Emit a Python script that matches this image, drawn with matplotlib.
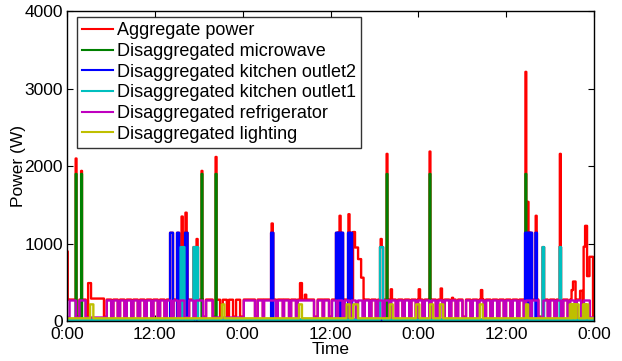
import numpy as np
import matplotlib
matplotlib.use("Agg")
import matplotlib.pyplot as plt

plt.rcParams['font.family'] = ['Liberation Sans', 'DejaVu Sans']

# ---------------- data (hours since start, watts) ----------------
x_ticks = [0, 12, 24, 36, 48, 60, 72]
x_tick_labels = ["0:00", "12:00", "0:00", "12:00", "0:00", "12:00", "0:00"]
y_ticks = [0, 1000, 2000, 3000, 4000]

# refrigerator (disaggregated) cycles: start hour, duration hours
fridge_start = [0.35, 1.70, 5.42, 6.33, 7.24, 8.16, 9.06, 9.97, 10.89, 11.79,
                12.71, 13.62, 14.52, 15.44, 16.67, 17.58, 18.99, 24.14, 26.05,
                26.91, 28.79, 29.65, 30.60, 31.52, 34.25, 35.11, 36.20, 37.02,
                37.94, 38.84, 39.76, 40.67, 41.57, 42.49, 43.40, 44.31, 45.22,
                46.14, 47.04, 47.95, 48.87, 49.77, 50.69, 51.60, 52.50, 53.42,
                54.51, 55.43, 56.33, 57.24, 58.16, 59.06, 59.98, 60.89, 61.79,
                62.71, 63.49, 65.07, 65.99, 66.90, 67.80, 68.72, 69.64, 70.63]
fridge_dur = [0.85, 0.85, 0.6, 0.6, 0.6, 0.6, 0.6, 0.6, 0.6, 0.6,
              0.6, 0.6, 0.6, 0.6, 0.6, 1.0, 0.9, 1.54, 0.69,
              1.64, 0.68, 0.68, 0.68, 2.23, 0.68, 0.69, 0.6, 0.6,
              0.6, 0.6, 0.6, 0.6, 0.6, 0.6, 0.6, 0.6, 0.6,
              0.6, 0.6, 0.6, 0.6, 0.6, 0.6, 0.6, 0.6, 0.6,
              0.6, 0.6, 0.6, 0.6, 0.6, 0.6, 0.6, 0.6, 0.6,
              0.6, 0.9, 0.6, 0.6, 0.6, 0.6, 0.6, 0.6, 0.8]
fridge_on_w = 265
fridge_off_w = 45

# fridge cycles seen only in the aggregate signal
agg_fridge_start = [0.0, 20.36, 21.27, 22.13, 23.09]
agg_fridge_dur = [0.55, 0.55, 0.55, 0.55, 0.55]

# lighting events (start, end)
light_start = [3.14, 21.15, 31.70, 38.20, 39.10, 44.10, 47.70, 49.60, 50.95,
               56.40, 62.70, 68.70, 68.90, 69.10, 69.35, 69.55, 70.50, 70.70, 70.90]
light_end = [3.60, 21.50, 32.10, 38.60, 39.75, 44.50, 48.15, 50.00, 51.40,
             56.80, 63.00, 68.85, 69.05, 69.30, 69.50, 69.90, 70.65, 70.85, 71.20]
light_on_w = 215
light_off_w = 35

# microwave events
micro_start = [1.18, 1.93, 18.38, 20.30, 43.66, 49.53, 62.62]
micro_end = [1.30, 2.05, 18.50, 20.42, 43.78, 49.65, 62.74]
micro_on_w = 1900

# kitchen outlet2 events
out2_start = [14.07, 15.03, 16.12, 27.87, 36.75, 37.00, 37.25, 37.50, 38.39,
              38.65, 62.57, 62.80, 63.05, 63.30, 64.00]
out2_end = [14.48, 15.30, 16.46, 28.18, 36.95, 37.20, 37.45, 37.71, 38.60,
            38.94, 62.75, 63.00, 63.25, 63.53, 64.20]
out2_on_w = 1140

# kitchen outlet1 events
out1_start = [15.51, 15.80, 17.28, 17.60, 42.76, 64.96, 67.29]
out1_end = [15.75, 16.05, 17.55, 17.90, 43.17, 65.17, 67.49]
out1_on_w = 955

off_w = 15
agg_base_w = 40

# aggregate peaks not explained by the components (start, end, watts)
agg_ev_start = [0.00, 1.18, 1.93, 2.87, 3.28, 15.65, 16.18, 17.70, 18.38, 20.30,
                27.95, 31.83, 32.50, 37.22, 38.45, 39.07, 39.35, 39.76, 40.17,
                42.85, 43.66, 44.22, 48.05, 49.53, 51.05, 52.60, 56.55, 62.62,
                62.90, 64.02, 67.32, 68.93, 69.13, 70.09, 70.57, 70.77, 71.04, 71.38]
agg_ev_end = [0.10, 1.30, 2.05, 3.28, 5.05, 15.80, 16.34, 17.84, 18.50, 20.42,
              28.10, 32.10, 32.68, 37.38, 38.60, 39.35, 39.76, 40.17, 40.51,
              43.00, 43.78, 44.40, 48.22, 49.65, 51.22, 52.75, 56.72, 62.74,
              63.05, 64.16, 67.46, 69.13, 69.47, 70.45, 70.77, 71.04, 71.38, 71.86]
agg_ev_w = [900, 2100, 1940, 490, 290, 1350, 1400, 1060, 1940, 2120,
            1260, 490, 340, 1360, 1380, 1150, 950, 800, 560,
            1060, 2160, 410, 410, 2190, 420, 300, 400, 3220,
            1540, 1360, 2160, 400, 510, 390, 960, 1230, 580, 830]

# ---------------- build signals on a 1-minute grid ----------------
t = np.arange(0, 72 + 1e-9, 1 / 60)


def signal(starts, ends, on, off):
    y = np.full_like(t, off, dtype=float)
    for s, e in zip(starts, ends):
        y[(t >= s) & (t < e)] = on
    return y


fridge = signal(fridge_start, [s + d for s, d in zip(fridge_start, fridge_dur)],
                fridge_on_w, fridge_off_w)
fridge_extra = signal(agg_fridge_start,
                      [s + d for s, d in zip(agg_fridge_start, agg_fridge_dur)],
                      fridge_on_w + 10, 0)
light = signal(light_start, light_end, light_on_w, light_off_w)
micro = signal(micro_start, micro_end, micro_on_w, off_w)
out2 = signal(out2_start, out2_end, out2_on_w, off_w)
out1 = signal(out1_start, out1_end, out1_on_w, off_w)

agg = np.maximum.reduce([np.full_like(t, agg_base_w), fridge + 12, fridge_extra,
                         light, micro, out2, out1])
for s, e, w in zip(agg_ev_start, agg_ev_end, agg_ev_w):
    m = (t >= s) & (t < e)
    agg[m] = np.maximum(agg[m], w)

# ---------------- plot ----------------
FS = 13
TFS = 12.5
fig = plt.figure(figsize=(6.22, 3.61), dpi=100)
ax = fig.add_axes([67 / 622, 1 - 321 / 361, (594 - 67) / 622, (321 - 11.5) / 361])

lw = 1.7
ax.plot(t, agg, color=(1, 0, 0), lw=lw, drawstyle='steps-post', label='Aggregate power')
ax.plot(t, micro, color=(0, 0.5, 0), lw=lw, drawstyle='steps-post', label='Disaggregated microwave')
ax.plot(t, out2, color=(0, 0, 1), lw=lw, drawstyle='steps-post', label='Disaggregated kitchen outlet2')
ax.plot(t, out1, color=(0, 0.75, 0.75), lw=lw, drawstyle='steps-post', label='Disaggregated kitchen outlet1')
ax.plot(t, fridge, color=(0.75, 0, 0.75), lw=lw, drawstyle='steps-post', label='Disaggregated refrigerator')
ax.plot(t, light, color=(0.75, 0.75, 0), lw=lw, drawstyle='steps-post', label='Disaggregated lighting')

ax.set_xlim(0, 72)
ax.set_ylim(0, 4000)
ax.set_xticks(x_ticks)
ax.set_xticklabels(x_tick_labels)
ax.set_yticks(y_ticks)
ax.tick_params(direction='in', length=4, width=0.8, top=True, right=True,
               labelsize=TFS, colors='black')
ax.tick_params(axis='x', pad=4.5)
ax.tick_params(axis='y', pad=3)
for sp in ax.spines.values():
    sp.set_linewidth(1.0)
    sp.set_color('black')
ax.set_xlabel('Time', fontsize=TFS, labelpad=-0.5)
ax.set_ylabel('Power (W)', fontsize=TFS, labelpad=-1.5)

leg = ax.legend(loc='upper left', bbox_to_anchor=(0.019, 0.982), borderaxespad=0,
                fontsize=FS, frameon=True, fancybox=False, handlelength=1.7,
                handletextpad=0.2, labelspacing=0.2, borderpad=0.3)
leg.get_frame().set_edgecolor('black')
leg.get_frame().set_linewidth(1.0)
for line in leg.get_lines():
    line.set_linewidth(1.5)

fig.savefig('out.png', dpi=100)
